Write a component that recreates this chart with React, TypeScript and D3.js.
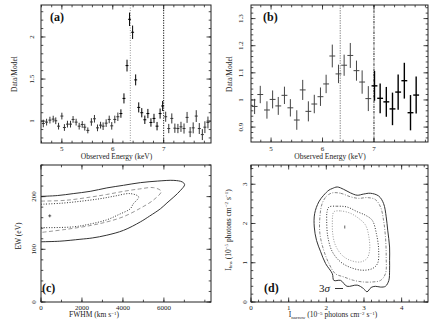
import React from "react";
import * as d3 from "d3";

// panel (a): data/model ratio, fine bins
const energyA = [4.635, 4.7, 4.765, 4.83, 4.88, 4.935, 5.0, 5.05, 5.11, 5.17, 5.22, 5.28, 5.34, 5.4, 5.45, 5.51, 5.58, 5.64, 5.7, 5.76, 5.81, 5.87, 5.93, 5.98, 6.04, 6.1, 6.16, 6.22, 6.28, 6.33, 6.39, 6.45, 6.51, 6.57, 6.63, 6.69, 6.75, 6.81, 6.87, 6.93, 6.98, 7.04, 7.1, 7.16, 7.22, 7.28, 7.34, 7.4, 7.46, 7.52, 7.58, 7.64, 7.7, 7.76, 7.81, 7.87];
const ratioA = [0.972, 0.988, 1.012, 1.024, 1.004, 0.94, 1.06, 0.924, 0.964, 0.964, 1.02, 0.988, 0.94, 0.96, 0.928, 0.89, 0.99, 1.028, 0.92, 0.952, 0.94, 0.976, 1.02, 0.944, 1.02, 1.052, 1.09, 1.27, 1.66, 2.21, 2.056, 1.49, 1.163, 1.1, 1.016, 1.09, 0.984, 1.032, 0.94, 1.09, 1.18, 1.052, 0.912, 1.032, 0.916, 0.912, 0.932, 0.912, 1.044, 0.87, 0.92, 1.06, 0.912, 0.84, 0.928, 0.984];
const errA = [0.045, 0.04, 0.04, 0.04, 0.04, 0.04, 0.04, 0.04, 0.04, 0.04, 0.04, 0.04, 0.04, 0.04, 0.04, 0.035, 0.045, 0.045, 0.04, 0.04, 0.045, 0.045, 0.045, 0.045, 0.045, 0.05, 0.05, 0.06, 0.07, 0.08, 0.08, 0.065, 0.06, 0.055, 0.05, 0.055, 0.05, 0.055, 0.05, 0.06, 0.06, 0.06, 0.055, 0.06, 0.055, 0.055, 0.06, 0.06, 0.065, 0.06, 0.065, 0.07, 0.065, 0.065, 0.07, 0.07];

// panel (b): coarser bins
const energyB = [4.68, 4.79, 4.92, 5.03, 5.14, 5.26, 5.375, 5.5, 5.615, 5.725, 5.84, 5.96, 6.07, 6.19, 6.31, 6.42, 6.54, 6.66, 6.77, 6.89, 7.01, 7.12, 7.24, 7.36, 7.47, 7.59, 7.71, 7.82];
const ratioB = [0.976, 1.02, 0.963, 1.002, 0.978, 1.017, 0.971, 0.926, 1.037, 0.958, 0.985, 1.012, 1.059, 1.162, 1.096, 1.128, 1.164, 1.108, 1.066, 1.005, 1.052, 1.006, 0.993, 0.967, 1.029, 1.071, 0.953, 1.018];
const errB = [0.028, 0.032, 0.032, 0.033, 0.033, 0.032, 0.032, 0.036, 0.037, 0.037, 0.034, 0.034, 0.034, 0.042, 0.034, 0.039, 0.046, 0.037, 0.043, 0.046, 0.055, 0.055, 0.055, 0.06, 0.065, 0.066, 0.065, 0.068];

const lineEnergies = [6.345, 7.0];

// panel (c): FWHM (km/s) vs EW (eV) confidence contours
const contourC1 = [[0, 200.5], [800, 202], [1572, 205.7], [2400, 210], [3214, 216.5], [4030, 221.5], [4850, 226.5], [5700, 229.5], [6486, 230.8], [6900, 227.8], [7012, 222.7], [6816, 212], [6486, 199.4], [6150, 188], [5833, 177], [5300, 163], [4850, 152], [4030, 136], [3214, 126.8], [2500, 121.5], [1902, 119], [919, 115.4], [0, 114.3]];
const contourC2 = [[0, 191.5], [1200, 193], [2393, 199], [3200, 204], [4030, 210], [4800, 214.5], [5504, 217], [5866, 210], [5504, 194], [4850, 178], [4030, 162], [3214, 152], [2393, 145], [1245, 138], [0, 132]];
const contourC3 = [[0, 185.5], [1000, 187.5], [2000, 191.5], [2885, 196], [3600, 201], [4360, 205.7], [4768, 199.4], [4500, 186], [4360, 177], [3800, 166], [3214, 156], [2400, 148], [1573, 142.6], [0, 141]];
const bestC = [427, 163.5];

// panel (d): I_narrow vs I_broad contours
const contourD1 = [[2.156, 2.89], [2.29, 2.93], [2.46, 2.87], [2.64, 2.78], [2.82, 2.72], [2.99, 2.75], [3.17, 2.77], [3.39, 2.7], [3.52, 2.51], [3.59, 2.17], [3.63, 1.83], [3.68, 1.4], [3.68, 1.06], [3.68, 0.81], [3.66, 0.55], [3.57, 0.4], [3.44, 0.38], [3.3, 0.4], [3.19, 0.37], [3.08, 0.26], [2.99, 0.34], [2.82, 0.43], [2.55, 0.4], [2.38, 0.55], [2.2, 0.55], [2.16, 0.72], [1.98, 0.98], [1.85, 1.28], [1.74, 1.57], [1.68, 1.91], [1.69, 2.25], [1.8, 2.55], [1.93, 2.72], [2.07, 2.85]];
const contourD2 = [[2.16, 2.78], [2.38, 2.77], [2.64, 2.68], [2.86, 2.64], [3.08, 2.66], [3.3, 2.61], [3.44, 2.42], [3.52, 2.08], [3.57, 1.66], [3.59, 1.15], [3.57, 0.72], [3.44, 0.55], [3.22, 0.51], [2.99, 0.51], [2.73, 0.55], [2.46, 0.64], [2.24, 0.72], [2.07, 0.98], [1.93, 1.32], [1.83, 1.74], [1.83, 2.17], [1.89, 2.51], [2.01, 2.7]];
const contourD3 = [[2.07, 2.42], [2.29, 2.44], [2.55, 2.42], [2.82, 2.3], [3.04, 2.21], [3.22, 2.08], [3.33, 1.74], [3.39, 1.32], [3.36, 0.98], [3.22, 0.85], [2.95, 0.81], [2.64, 0.88], [2.38, 1.02], [2.16, 1.28], [2.04, 1.66], [2.01, 2.08], [2.02, 2.3]];
const contourD4 = [[2.2, 2.3], [2.38, 2.32], [2.64, 2.26], [2.86, 2.13], [3.04, 1.96], [3.13, 1.66], [3.15, 1.32], [3.08, 1.11], [2.91, 1.02], [2.64, 1.06], [2.42, 1.19], [2.24, 1.45], [2.17, 1.74], [2.16, 2.04], [2.17, 2.21]];
const bestD = [2.49, 1.91];

const xTicksE = [5, 6, 7];
const yTicksA = [1, 1.5, 2];
const yTicksB = [0.9, 1, 1.1, 1.2, 1.3];
const xTicksC = [0, 2000, 4000, 6000];
const yTicksC = [0, 100, 200];
const xTicksD = [0, 1, 2, 3, 4];
const yTicksD = [0, 1, 2, 3];

const FONT = "'Liberation Serif', 'DejaVu Serif', serif";
const INK = "#222";

type Sc = d3.ScaleLinear<number, number>;

const minorTicks = (s: Sc, step: number) => {
  const [a, b] = s.domain();
  const out: number[] = [];
  for (let v = Math.ceil(a / step - 1e-6) * step; v <= b + 1e-9; v += step) out.push(v);
  return out;
};

function Frame({ x, y, xMajor, yMajor, xMinorStep, yMinorStep, xFmt, yFmt, ytx, xty }: {
  x: Sc; y: Sc; xMajor: number[]; yMajor: number[]; xMinorStep: number; yMinorStep: number;
  xFmt: (d: number) => string; yFmt: (d: number) => string; ytx: number; xty: number;
}) {
  const [x0, x1] = x.range();
  const [y0, y1] = y.range(); // y0 bottom, y1 top
  const M = 4.5, m = 2.3;
  const ticks: JSX.Element[] = [];
  minorTicks(x, xMinorStep).forEach((v, i) => {
    const px = x(v);
    ticks.push(<line key={"xb" + i} x1={px} x2={px} y1={y0} y2={y0 - m} />);
    ticks.push(<line key={"xt" + i} x1={px} x2={px} y1={y1} y2={y1 + m} />);
  });
  xMajor.forEach((v, i) => {
    const px = x(v);
    ticks.push(<line key={"XB" + i} x1={px} x2={px} y1={y0} y2={y0 - M} />);
    ticks.push(<line key={"XT" + i} x1={px} x2={px} y1={y1} y2={y1 + M} />);
  });
  minorTicks(y, yMinorStep).forEach((v, i) => {
    const py = y(v);
    ticks.push(<line key={"yl" + i} x1={x0} x2={x0 + m} y1={py} y2={py} />);
    ticks.push(<line key={"yr" + i} x1={x1} x2={x1 - m} y1={py} y2={py} />);
  });
  yMajor.forEach((v, i) => {
    const py = y(v);
    ticks.push(<line key={"YL" + i} x1={x0} x2={x0 + M} y1={py} y2={py} />);
    ticks.push(<line key={"YR" + i} x1={x1} x2={x1 - M} y1={py} y2={py} />);
  });
  return (
    <g>
      <g stroke={INK} strokeWidth={0.8}>{ticks}</g>
      <rect x={x0} y={y1} width={x1 - x0} height={y0 - y1} fill="none" stroke={INK} strokeWidth={1} />
      <g fontFamily={FONT} fontSize={7} fill={INK} textAnchor="middle">
        {xMajor.map((v) => (
          <text key={"lx" + v} x={x(v)} y={xty}>{xFmt(v)}</text>
        ))}
        {yMajor.map((v) => (
          <text key={"ly" + v} transform={`translate(${ytx},${y(v)}) rotate(-90)`} dy="0.35em">{yFmt(v)}</text>
        ))}
      </g>
    </g>
  );
}

function ErrPoints({ x, y, e, r, err, hw, color, width }: {
  x: Sc; y: Sc; e: number[]; r: number[]; err: number[]; hw: number; color: (v: number) => string; width: (v: number) => number;
}) {
  return (
    <g>
      {e.map((v, i) => (
        <g key={i} stroke={color(v)} strokeWidth={width(v)}>
          <line x1={x(v)} x2={x(v)} y1={y(r[i] - err[i])} y2={y(r[i] + err[i])} />
          <line x1={x(v - hw)} x2={x(v + hw)} y1={y(r[i])} y2={y(r[i])} />
        </g>
      ))}
    </g>
  );
}

export default function App() {
  // (a)
  const xa = d3.scaleLinear().domain([4.59, 7.93]).range([41, 211]);
  const ya = d3.scaleLinear().domain([0.74, 2.38]).range([143, 5]);
  // (b)
  const xb = d3.scaleLinear().domain([4.61, 8.05]).range([251, 428]);
  const yb = d3.scaleLinear().domain([0.845, 1.35]).range([142, 5]);
  // (c)
  const xc = d3.scaleLinear().domain([0, 8300]).range([41, 211]);
  const yc = d3.scaleLinear().domain([0, 260]).range([302, 165]);
  // (d)
  const xd = d3.scaleLinear().domain([0, 4.7]).range([251, 428]);
  const yd = d3.scaleLinear().domain([0, 3.49]).range([302, 165]);

  const lineC = d3.line<number[]>().x((d) => xc(d[0])).y((d) => yc(d[1])).curve(d3.curveCatmullRom.alpha(0.5));
  const lineD = d3.line<number[]>().x((d) => xd(d[0])).y((d) => yd(d[1])).curve(d3.curveCatmullRomClosed.alpha(0.5));

  const fmtE = (d: number) => String(d);
  const fmtA = (d: number) => String(d);
  const fmtB = (d: number) => (d === 1 ? "1" : d.toFixed(1));

  const supLabel = (before: string, sup: string, after: string) => (
    <>
      {before}
      <tspan dy={-2.5} fontSize={5}>{sup}</tspan>
      <tspan dy={2.5}>{after}</tspan>
    </>
  );

  return (
    <svg width={436} height={327} style={{ position: "absolute", left: 0, top: 0, background: "#fff" }}>
      <defs>
        <clipPath id="ca"><rect x={41} y={5} width={170} height={138} /></clipPath>
        <clipPath id="cb"><rect x={251} y={5} width={177} height={137} /></clipPath>
        <clipPath id="cc"><rect x={41} y={165} width={170} height={137} /></clipPath>
        <clipPath id="cd"><rect x={251} y={165} width={177} height={137} /></clipPath>
      </defs>

      {/* (a) */}
      <g clipPath="url(#ca)" fill="none">
        <line x1={xa(lineEnergies[0])} x2={xa(lineEnergies[0])} y1={5} y2={143} stroke="#999" strokeWidth={1} strokeDasharray="1 1.5" />
        <line x1={xa(lineEnergies[1])} x2={xa(lineEnergies[1])} y1={5} y2={143} stroke="#111" strokeWidth={1} strokeDasharray="1.2 1.3" />
        <ErrPoints x={xa} y={ya} e={energyA} r={ratioA} err={errA} hw={0.029} color={(v) => (v > 6.15 && v < 7.02 ? "#000" : "#333")} width={() => 1} />
      </g>
      <Frame x={xa} y={ya} xMajor={xTicksE} yMajor={yTicksA} xMinorStep={0.2} yMinorStep={0.1} xFmt={fmtE} yFmt={fmtA} ytx={31.7} xty={151} />

      {/* (b) */}
      <g clipPath="url(#cb)" fill="none">
        <line x1={xb(lineEnergies[0])} x2={xb(lineEnergies[0])} y1={5} y2={142} stroke="#aaa" strokeWidth={1.3} strokeDasharray="1.5 1" />
        <line x1={xb(lineEnergies[1])} x2={xb(lineEnergies[1])} y1={5} y2={142} stroke="#222" strokeWidth={1} strokeDasharray="2.5 1 0.8 1" />
        <ErrPoints x={xb} y={yb} e={energyB} r={ratioB} err={errB} hw={0.057} color={(v) => (v > 6.95 ? "#000" : "#444")} width={(v) => (v > 6.95 ? 1.4 : 1)} />
      </g>
      <Frame x={xb} y={yb} xMajor={xTicksE} yMajor={yTicksB} xMinorStep={0.2} yMinorStep={0.02} xFmt={fmtE} yFmt={fmtB} ytx={240.7} xty={151} />

      {/* (c) */}
      <g clipPath="url(#cc)" fill="none">
        <path d={lineC(contourC1) ?? ""} stroke="#333" strokeWidth={1} />
        <path d={lineC(contourC2) ?? ""} stroke="#999" strokeWidth={1} strokeDasharray="4 2.5" />
        <path d={lineC(contourC3) ?? ""} stroke="#333" strokeWidth={1} strokeDasharray="1 1.6" />
        <g stroke="#333" strokeWidth={0.8}>
          <line x1={xc(bestC[0]) - 1.5} x2={xc(bestC[0]) + 1.5} y1={yc(bestC[1])} y2={yc(bestC[1])} />
          <line x1={xc(bestC[0])} x2={xc(bestC[0])} y1={yc(bestC[1]) - 1.5} y2={yc(bestC[1]) + 1.5} />
        </g>
      </g>
      <Frame x={xc} y={yc} xMajor={xTicksC} yMajor={yTicksC} xMinorStep={1000} yMinorStep={20} xFmt={(d) => String(d)} yFmt={(d) => String(d)} ytx={33.3} xty={309.5} />

      {/* (d) */}
      <g clipPath="url(#cd)" fill="none">
        <path d={lineD(contourD1) ?? ""} stroke="#333" strokeWidth={1} />
        <path d={lineD(contourD2) ?? ""} stroke="#888" strokeWidth={1} strokeDasharray="3 1.5 1 1.5" />
        <path d={lineD(contourD3) ?? ""} stroke="#333" strokeWidth={1} strokeDasharray="1 1.6" />
        <path d={lineD(contourD4) ?? ""} stroke="#999" strokeWidth={1} strokeDasharray="1 1.6" />
        <line x1={xd(bestD[0])} x2={xd(bestD[0])} y1={yd(bestD[1]) - 1.5} y2={yd(bestD[1]) + 1.5} stroke="#333" strokeWidth={0.8} />
        <line x1={335} x2={343} y1={288.5} y2={288.5} stroke="#333" strokeWidth={1} />
      </g>
      <Frame x={xd} y={yd} xMajor={xTicksD} yMajor={yTicksD} xMinorStep={0.2} yMinorStep={0.2} xFmt={(d) => String(d)} yFmt={(d) => String(d)} ytx={244.7} xty={309.5} />
      <text x={319} y={292} fontFamily={FONT} fontSize={11} fill="#222">3<tspan fontStyle="italic">σ</tspan></text>

      {/* panel letters */}
      <g fontFamily={FONT} fontSize={12} fontWeight="bold" fill="#111">
        <text x={50} y={21}>(a)</text>
        <text x={263} y={21}>(b)</text>
        <text x={42} y={292}>(c)</text>
        <text x={264} y={292}>(d)</text>
      </g>

      {/* axis titles */}
      <g fontFamily={FONT} fontSize={7.5} fill={INK} textAnchor="middle">
        <text x={116.5} y={158.5}>Observed Energy (keV)</text>
        <text x={330} y={158.5}>Observed Energy (keV)</text>
        <text transform="translate(14,74) rotate(-90)" dy="0.35em">Data/Model</text>
        <text transform="translate(229.7,74) rotate(-90)" dy="0.35em">Data/Model</text>
        <text x={94} y={317}>{supLabel("FWHM (km s", "−1", ")")}</text>
        <text transform="translate(18,236) rotate(-90)" dy="0.35em">EW (eV)</text>
        <text x={333} y={317}>
          I<tspan dy={1.5} fontSize={5}>narrow</tspan>
          <tspan dy={-1.5}> (10</tspan>
          <tspan dy={-2.5} fontSize={5}>−5</tspan>
          <tspan dy={2.5}> photons cm</tspan>
          <tspan dy={-2.5} fontSize={5}>−2</tspan>
          <tspan dy={2.5}> s</tspan>
          <tspan dy={-2.5} fontSize={5}>−1</tspan>
          <tspan dy={2.5}>)</tspan>
        </text>
        <text transform="translate(228,230) rotate(-90)" dy="0.35em">
          I<tspan dy={1.5} fontSize={5}>bns</tspan>
          <tspan dy={-1.5}> (10</tspan>
          <tspan dy={-2.5} fontSize={5}>−5</tspan>
          <tspan dy={2.5}> photons cm</tspan>
          <tspan dy={-2.5} fontSize={5}>−2</tspan>
          <tspan dy={2.5}> s</tspan>
          <tspan dy={-2.5} fontSize={5}>−1</tspan>
          <tspan dy={2.5}>)</tspan>
        </text>
      </g>
    </svg>
  );
}
